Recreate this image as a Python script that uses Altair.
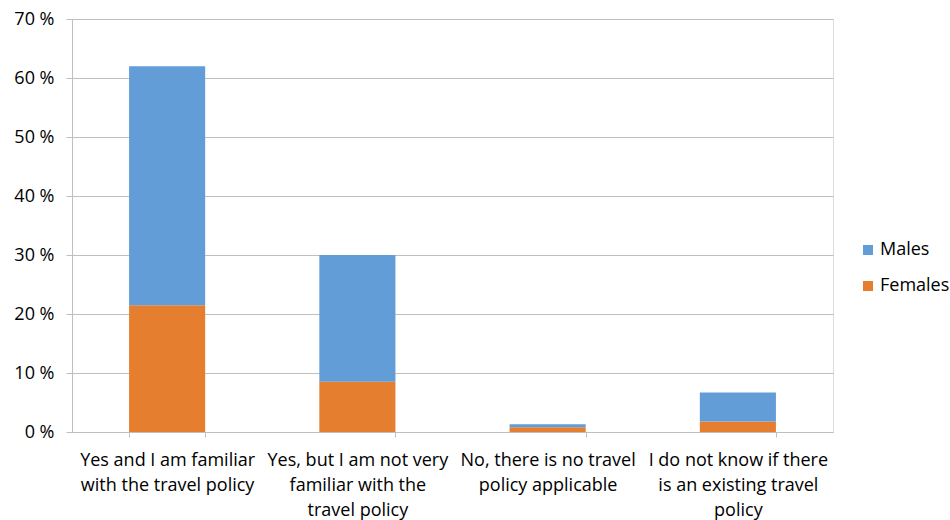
import altair as alt
import pandas as pd

# Survey answers (line breaks marked with "|") and shares by gender, in percent
answers = [
    "Yes and I am familiar|with the travel policy",
    "Yes, but I am not very|familiar with the|travel policy",
    "No, there is no travel|policy applicable",
    "I do not know if there|is an existing travel|policy",
]
females = [21.5, 8.5, 0.8, 1.8]
males = [40.5, 21.5, 0.5, 4.9]
series = ["Males", "Females"]
colors = ["#629DD8", "#E67E2F"]

rows = []
for a, f, m in zip(answers, females, males):
    rows.append({"answer": a, "gender": "Females", "share": f, "rank": 0})
    rows.append({"answer": a, "gender": "Males", "share": m, "rank": 1})
df = pd.DataFrame(rows)

font = "Open Sans"
fsize = 18

chart = (
    alt.Chart(df)
    .mark_bar()
    .encode(
        x=alt.X(
            "answer:N",
            sort=answers,
            title=None,
            scale=alt.Scale(paddingInner=0.6, paddingOuter=0.3),
            axis=alt.Axis(
                labelExpr="split(datum.label, '|')",
                labelAngle=0,
                labelFont=font,
                labelFontSize=fsize,
                labelColor="#000000",
                labelLineHeight=25,
                labelPadding=14,
                labelLimit=400,
                labelOverlap=False,
                tickBand="extent",
                tickSize=5,
                tickColor="#BFBFBF",
                domainColor="#BFBFBF",
                grid=False,
            ),
        ),
        y=alt.Y(
            "share:Q",
            stack="zero",
            title=None,
            scale=alt.Scale(domain=[0, 70], nice=False),
            axis=alt.Axis(
                values=[0, 10, 20, 30, 40, 50, 60, 70],
                labelExpr="datum.value + ' %'",
                labelFont=font,
                labelFontSize=fsize,
                labelColor="#000000",
                labelPadding=12,
                tickSize=6,
                tickColor="#BFBFBF",
                domainColor="#BFBFBF",
                gridColor="#BFBFBF",
            ),
        ),
        color=alt.Color(
            "gender:N",
            scale=alt.Scale(domain=series, range=colors),
            sort=series,
            legend=alt.Legend(
                title=None,
                orient="none",
                legendX=787,
                legendY=222,
                symbolType="square",
                symbolSize=100,
                symbolStrokeWidth=0,
                labelFont=font,
                labelFontSize=fsize,
                labelColor="#000000",
                rowPadding=18,
                labelOffset=3,
            ),
        ),
        order=alt.Order("rank:Q", sort="ascending"),
    )
    .properties(
        width=761,
        height=413,
        autosize=alt.AutoSizeParams(type="none"),
        padding={"left": 72, "top": 19, "right": 117, "bottom": 88},
    )
    .configure_view(stroke=None)
    .configure(background="white")
)

chart.save("out.html", embed_options={"renderer": "svg", "actions": False})
